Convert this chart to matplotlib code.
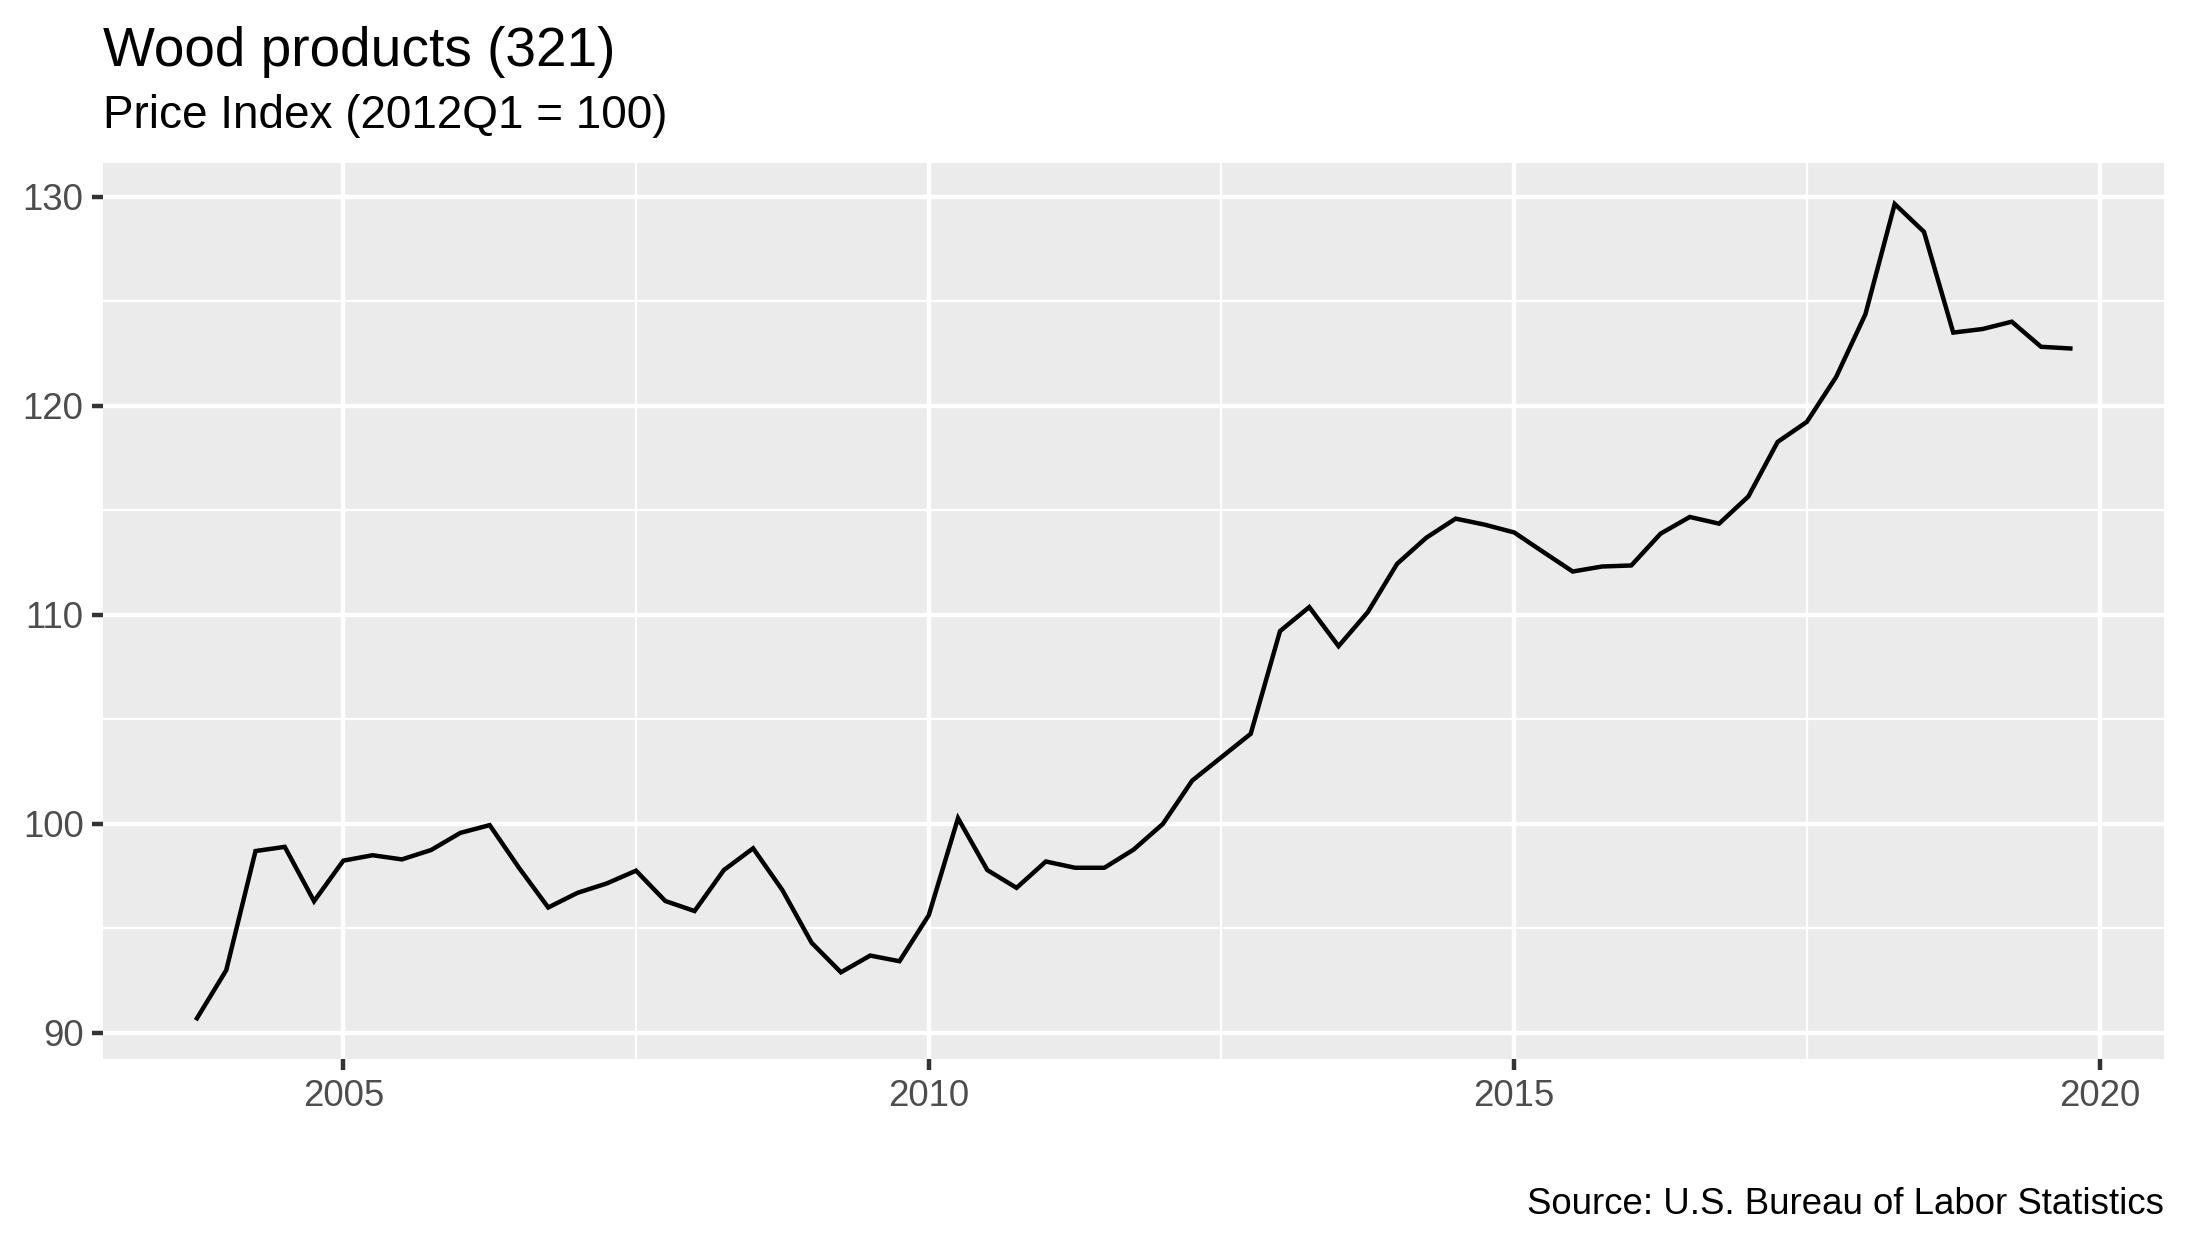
import matplotlib
matplotlib.use('Agg')
import matplotlib.pyplot as plt
import numpy as np

plt.rcParams['font.family'] = ['Liberation Sans', 'DejaVu Sans']

# Kuartal awal 2003Q4 sampai 2019Q4
start_year = 2003
start_quarter = 4
price_index = [
    90.7,
    93.0, 98.7, 98.9, 96.3,
    98.24, 98.5, 98.3, 98.75,
    99.57, 99.94, 97.9, 96.0,
    96.7, 97.15, 97.76, 96.31,
    95.83, 97.79, 98.83, 96.83,
    94.31, 92.9, 93.7, 93.43,
    95.63, 100.27, 97.79, 96.94,
    98.2, 97.9, 97.9, 98.77,
    100.0, 102.07, 103.19, 104.31,
    109.22, 110.37, 108.5, 110.13,
    112.44, 113.69, 114.6, 114.31,
    113.94, 113.0, 112.07, 112.31,
    112.36, 113.88, 114.68, 114.36,
    115.66, 118.27, 119.23, 121.38,
    124.38, 129.65, 128.32, 123.5,
    123.67, 124.02, 122.82, 122.74,
]
x_ticks = [2005, 2010, 2015, 2020]
y_ticks = [90, 100, 110, 120, 130]

title = 'Wood products (321)'
subtitle = 'Price Index (2012Q1 = 100)'
caption = 'Source: U.S. Bureau of Labor Statistics'

# Posisi waktu (tahun desimal, awal kuartal)
n = len(price_index)
idx = np.arange(n) + (start_quarter - 1)
t = start_year + idx / 4.0
y = np.array(price_index)

W, H = 2187, 1250
fig = plt.figure(figsize=(W / 300, H / 300), dpi=300)
left, right, top, bottom = 103.3, 2164, 163.3, 1059
ax = fig.add_axes([left / W, 1 - bottom / H, (right - left) / W, (bottom - top) / H])

ax.set_facecolor('#EBEBEB')
for s in ax.spines.values():
    s.set_visible(False)

ax.plot(t, y, color='black', linewidth=1.07, solid_joinstyle='miter', zorder=3)

ax.set_xticks(x_ticks)
ax.set_yticks(y_ticks)
ax.set_xticks([2007.5, 2012.5, 2017.5], minor=True)
ax.set_yticks([95, 105, 115, 125], minor=True)

# Ekspansi 5% ala ggplot (setelah tick supaya batas tidak bergeser)
xr = t.max() - t.min()
yr = y.max() - y.min()
ax.set_xlim(t.min() - 0.05 * xr, t.max() + 0.05 * xr)
ax.set_ylim(y.min() - 0.05 * yr, y.max() + 0.05 * yr)

ax.grid(which='major', color='white', linewidth=1.07, zorder=1)
ax.grid(which='minor', color='white', linewidth=0.53, zorder=1)
ax.set_axisbelow(True)

ax.tick_params(which='major', length=2.75, width=1.07, color='#333333',
               labelsize=8.8, labelcolor='#4D4D4D', pad=2.0)
ax.tick_params(which='minor', length=0)

fig.text(left / W, 1 - 66 / H, title, fontsize=13.2, ha='left', va='baseline')
fig.text(left / W, 1 - 128 / H, subtitle, fontsize=11, ha='left', va='baseline')
fig.text(right / W, 1 - 1214 / H, caption, fontsize=8.8, ha='right', va='baseline')

fig.savefig('out.png', dpi=300)
